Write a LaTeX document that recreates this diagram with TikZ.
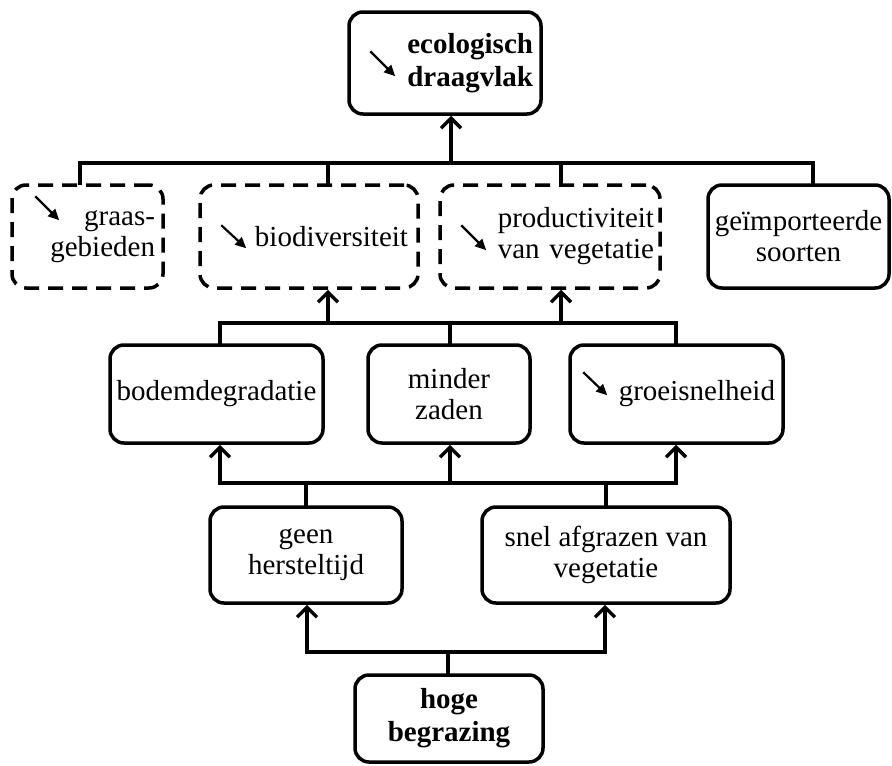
\documentclass[tikz,border=0pt]{standalone}
\usepackage{fontspec}
\setmainfont{Liberation Serif}
\usetikzlibrary{arrows.meta}
\begin{document}
\begin{tikzpicture}[x=1pt,y=-1pt,
  box/.style={draw, line width=3.5pt, rounded corners=14pt, inner sep=0pt,
    font=\fontsize{29}{31}\selectfont, align=center},
  bold/.style={font=\fontsize{29}{33}\selectfont\bfseries},
  dbox/.style={box, dash pattern=on 15pt off 9pt},
  link/.style={line width=3.5pt, line cap=rect},
  up/.style={link, -{Straight Barb[length=10pt,width=20pt]}},
  dec/.style={line width=2.2pt, -{Triangle[length=11pt,width=10pt]}}
]
\useasboundingbox (0,0) rectangle (892,766);

% boxes
\node[box, bold, minimum width=192pt, minimum height=102pt, text width=176pt, align=right]
  (eco) at (445,63) {ecologisch\\draagvlak};

\node[dbox, minimum width=151pt, minimum height=103pt, text width=135pt, align=right]
  (graas) at (87.5,236.5) {graas-\\gebieden};
\node[dbox, minimum width=218pt, minimum height=103pt, text width=198pt, align=right]
  (bio) at (309,236.5) {biodiversiteit};
\node[dbox, minimum width=220pt, minimum height=103pt, text width=208pt, align=right]
  (prod) at (550,236.5) {productiviteit\\van vegetatie};
\node[box, minimum width=181pt, minimum height=103pt]
  (imp) at (798.5,236.5) {geïmporteerde\\soorten};

\node[box, minimum width=213pt, minimum height=98pt] (bodem) at (216.5,394) {bodemdegradatie};
\node[box, minimum width=162pt, minimum height=98pt] (minder) at (449,394) {minder\\zaden};
\node[box, minimum width=213pt, minimum height=98pt, text width=197pt, align=right]
  (groei) at (676.5,394) {groeisnelheid};

\node[box, minimum width=192pt, minimum height=96pt] (geen) at (306,555) {geen\\hersteltijd};
\node[box, minimum width=248pt, minimum height=96pt] (snel) at (606,555) {snel afgrazen van\\vegetatie};

\node[box, bold, minimum width=188pt, minimum height=87pt] (hoge) at (449,718.5) {hoge\\begrazing};

% decrease markers
\draw[dec] ([shift={(23,41)}]eco.north west) -- ++(25,25);
\draw[dec] ([shift={(25,13)}]graas.north west) -- ++(24,24);
\draw[dec] ([shift={(23,42)}]bio.north west) -- ++(25,23);
\draw[dec] ([shift={(23,42)}]prod.north west) -- ++(25,25);
\draw[dec] ([shift={(15,29)}]groei.north west) -- ++(24,23);

% top bus
\coordinate (t)  at (451,163);
\coordinate (tl) at (80,163);
\coordinate (tr) at (813,163);
\coordinate (tb) at (328,163);
\coordinate (tp) at (561,163);
\draw[link] (graas.north -| tl) |- (tr) -- (imp.north -| tr);
\draw[link] (tb) -- (bio.north -| tb);
\draw[link] (tp) -- (prod.north -| tp);
\draw[up] (t) -- (eco.south -| t);

% middle bus
\coordinate (ml) at (220,323);
\coordinate (mr) at (676,323);
\coordinate (mm) at (450,323);
\coordinate (mb) at (328,323);
\coordinate (mp) at (561,323);
\draw[link] (bodem.north -| ml) |- (mr) -- (groei.north -| mr);
\draw[link] (mm) -- (minder.north -| mm);
\draw[up] (mb) -- (bio.south -| mb);
\draw[up] (mp) -- (prod.south -| mp);

% lower bus
\coordinate (ll) at (220,483);
\coordinate (lr) at (676,483);
\coordinate (lm) at (450,483);
\coordinate (lg) at (306,483);
\coordinate (ls) at (606,483);
\draw[link] (ll) -- (lr);
\draw[up] (ll) -- (bodem.south -| ll);
\draw[up] (lm) -- (minder.south -| lm);
\draw[up] (lr) -- (groei.south -| lr);
\draw[link] (lg) -- (geen.north -| lg);
\draw[link] (ls) -- (snel.north -| ls);

% bottom bus
\coordinate (gl) at (307,652);
\coordinate (gr) at (605,652);
\coordinate (gm) at (448,652);
\draw[link] (gl) -- (gr);
\draw[up] (gl) -- (geen.south -| gl);
\draw[up] (gr) -- (snel.south -| gr);
\draw[link] (hoge.north -| gm) -- (gm);
\end{tikzpicture}
\end{document}
